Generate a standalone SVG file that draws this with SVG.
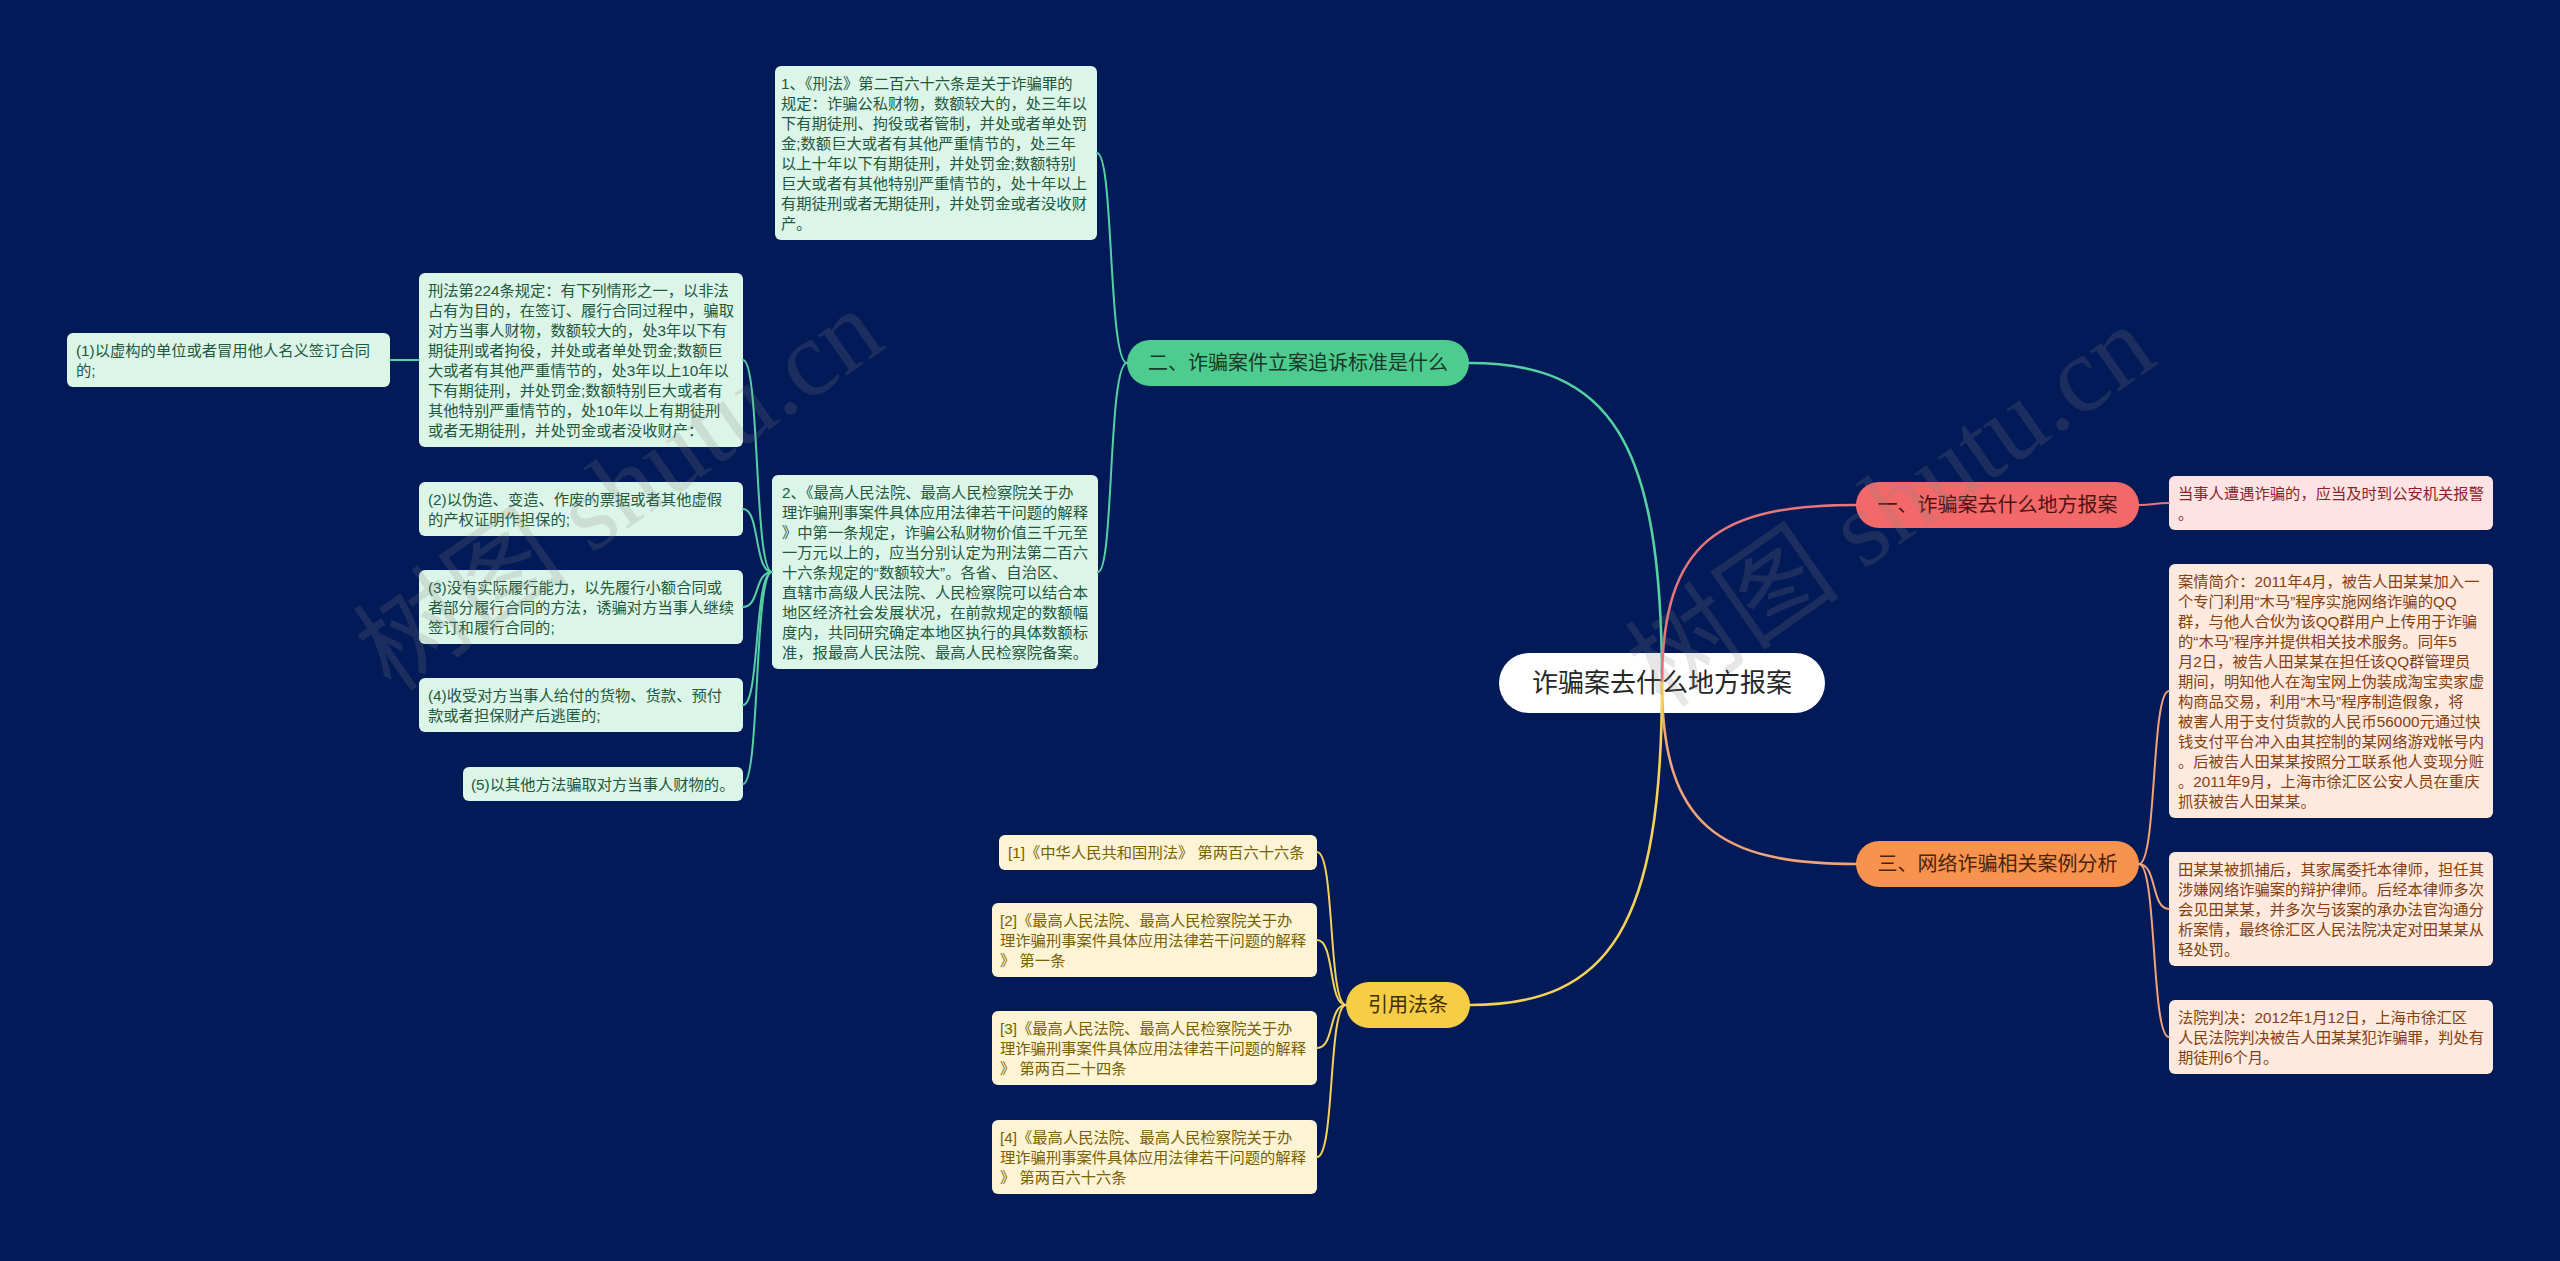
<svg xmlns="http://www.w3.org/2000/svg" width="2560" height="1261" viewBox="0 0 2560 1261">
<style>
text{font-family:"Liberation Sans","Noto Sans CJK SC",sans-serif;}
.lf{font-size:15.3px;}
.g rect{fill:#dcf5e9;}
.g text{fill:#22583c;}
.r rect{fill:#fde3e4;}
.r text{fill:#8e1f2d;}
.o rect{fill:#fde9de;}
.o text{fill:#86400f;}
.y rect{fill:#fdf4d5;}
.y text{fill:#786100;}
.br{font-size:20px;text-anchor:middle;}
.c{fill:none;stroke-linecap:round;}
.cg{stroke:#55d0a2;}
.cr{stroke:#e5777c;}
.co{stroke:#f1a47a;}
.cy{stroke:#f3d257;}
.main{stroke-width:2.6;}
.sub{stroke-width:2;}
.wm{font-family:"Liberation Serif","Noto Sans CJK SC",serif;font-size:108px;fill:#808080;fill-opacity:0.2;}
</style>
<rect x="0" y="0" width="2560" height="1261" fill="#021a57"/>

<g id="root">
<rect x="1499" y="653" width="326" height="60" rx="30" fill="#ffffff"/>
<text x="1662" y="692" font-size="26" text-anchor="middle" fill="#262626">诈骗案去什么地方报案</text>
</g>

<g id="branch-1">
<rect x="1856" y="482" width="283" height="46" rx="23" fill="#f3696a"/>
<text class="br" x="1997.5" y="512" fill="#4a1414">一、诈骗案去什么地方报案</text>
</g>
<g id="branch-2">
<rect x="1127" y="340" width="342" height="46" rx="23" fill="#4ecb8f"/>
<text class="br" x="1298" y="370" fill="#163a29">二、诈骗案件立案追诉标准是什么</text>
</g>
<g id="branch-3">
<rect x="1856" y="841" width="283" height="46" rx="23" fill="#f7934f"/>
<text class="br" x="1997.5" y="871" fill="#4a2308">三、网络诈骗相关案例分析</text>
</g>
<g id="branch-4">
<rect x="1346" y="982" width="124" height="46" rx="23" fill="#f7cd45"/>
<text class="br" x="1408" y="1012" fill="#3d3000">引用法条</text>
</g>

<g id="leaf-law266" class="g">
<rect x="775" y="66" width="322" height="174" rx="6"/>
<text class="lf" x="781" y="88.5"><tspan x="781">1、《刑法》第二百六十六条是关于诈骗罪的</tspan><tspan x="781" dy="20">规定：诈骗公私财物，数额较大的，处三年以</tspan><tspan x="781" dy="20">下有期徒刑、拘役或者管制，并处或者单处罚</tspan><tspan x="781" dy="20">金;数额巨大或者有其他严重情节的，处三年</tspan><tspan x="781" dy="20">以上十年以下有期徒刑，并处罚金;数额特别</tspan><tspan x="781" dy="20">巨大或者有其他特别严重情节的，处十年以上</tspan><tspan x="781" dy="20">有期徒刑或者无期徒刑，并处罚金或者没收财</tspan><tspan x="781" dy="20">产。</tspan></text>
</g>

<g id="leaf-interp" class="g">
<rect x="772" y="475" width="326" height="194" rx="6"/>
<text class="lf" x="782" y="497.5"><tspan x="782">2、《最高人民法院、最高人民检察院关于办</tspan><tspan x="782" dy="20">理诈骗刑事案件具体应用法律若干问题的解释</tspan><tspan x="782" dy="20">》中第一条规定，诈骗公私财物价值三千元至</tspan><tspan x="782" dy="20">一万元以上的，应当分别认定为刑法第二百六</tspan><tspan x="782" dy="20">十六条规定的“数额较大”。各省、自治区、</tspan><tspan x="782" dy="20">直辖市高级人民法院、人民检察院可以结合本</tspan><tspan x="782" dy="20">地区经济社会发展状况，在前款规定的数额幅</tspan><tspan x="782" dy="20">度内，共同研究确定本地区执行的具体数额标</tspan><tspan x="782" dy="20">准，报最高人民法院、最高人民检察院备案。</tspan></text>
</g>

<g id="leaf-law224" class="g">
<rect x="419" y="273" width="324" height="174" rx="6"/>
<text class="lf" x="428" y="295.5"><tspan x="428">刑法第224条规定：有下列情形之一，以非法</tspan><tspan x="428" dy="20">占有为目的，在签订、履行合同过程中，骗取</tspan><tspan x="428" dy="20">对方当事人财物，数额较大的，处3年以下有</tspan><tspan x="428" dy="20">期徒刑或者拘役，并处或者单处罚金;数额巨</tspan><tspan x="428" dy="20">大或者有其他严重情节的，处3年以上10年以</tspan><tspan x="428" dy="20">下有期徒刑，并处罚金;数额特别巨大或者有</tspan><tspan x="428" dy="20">其他特别严重情节的，处10年以上有期徒刑</tspan><tspan x="428" dy="20">或者无期徒刑，并处罚金或者没收财产：</tspan></text>
</g>

<g id="leaf-i1" class="g">
<rect x="67" y="333" width="323" height="54" rx="6"/>
<text class="lf" x="76" y="355.5"><tspan x="76">(1)以虚构的单位或者冒用他人名义签订合同</tspan><tspan x="76" dy="20">的;</tspan></text>
</g>
<g id="leaf-i2" class="g">
<rect x="419" y="482" width="324" height="54" rx="6"/>
<text class="lf" x="428" y="504.5"><tspan x="428">(2)以伪造、变造、作废的票据或者其他虚假</tspan><tspan x="428" dy="20">的产权证明作担保的;</tspan></text>
</g>
<g id="leaf-i3" class="g">
<rect x="419" y="570" width="324" height="74" rx="6"/>
<text class="lf" x="428" y="592.5"><tspan x="428">(3)没有实际履行能力，以先履行小额合同或</tspan><tspan x="428" dy="20">者部分履行合同的方法，诱骗对方当事人继续</tspan><tspan x="428" dy="20">签订和履行合同的;</tspan></text>
</g>
<g id="leaf-i4" class="g">
<rect x="419" y="678" width="324" height="54" rx="6"/>
<text class="lf" x="428" y="700.5"><tspan x="428">(4)收受对方当事人给付的货物、货款、预付</tspan><tspan x="428" dy="20">款或者担保财产后逃匿的;</tspan></text>
</g>
<g id="leaf-i5" class="g">
<rect x="463" y="767" width="280" height="34" rx="6"/>
<text class="lf" x="471" y="789.5">(5)以其他方法骗取对方当事人财物的。</text>
</g>

<g id="leaf-police" class="r">
<rect x="2169" y="476" width="324" height="54" rx="6"/>
<text class="lf" x="2178" y="498.5"><tspan x="2178">当事人遭遇诈骗的，应当及时到公安机关报警</tspan><tspan x="2178" dy="20">。</tspan></text>
</g>

<g id="leaf-case1" class="o">
<rect x="2169" y="564" width="324" height="254" rx="6"/>
<text class="lf" x="2178" y="586.5"><tspan x="2178">案情简介：2011年4月，被告人田某某加入一</tspan><tspan x="2178" dy="20">个专门利用“木马”程序实施网络诈骗的QQ</tspan><tspan x="2178" dy="20">群，与他人合伙为该QQ群用户上传用于诈骗</tspan><tspan x="2178" dy="20">的“木马”程序并提供相关技术服务。同年5</tspan><tspan x="2178" dy="20">月2日，被告人田某某在担任该QQ群管理员</tspan><tspan x="2178" dy="20">期间，明知他人在淘宝网上伪装成淘宝卖家虚</tspan><tspan x="2178" dy="20">构商品交易，利用“木马”程序制造假象，将</tspan><tspan x="2178" dy="20">被害人用于支付货款的人民币56000元通过快</tspan><tspan x="2178" dy="20">钱支付平台冲入由其控制的某网络游戏帐号内</tspan><tspan x="2178" dy="20">。后被告人田某某按照分工联系他人变现分赃</tspan><tspan x="2178" dy="20">。2011年9月，上海市徐汇区公安人员在重庆</tspan><tspan x="2178" dy="20">抓获被告人田某某。</tspan></text>
</g>
<g id="leaf-case2" class="o">
<rect x="2169" y="852" width="324" height="114" rx="6"/>
<text class="lf" x="2178" y="874.5"><tspan x="2178">田某某被抓捕后，其家属委托本律师，担任其</tspan><tspan x="2178" dy="20">涉嫌网络诈骗案的辩护律师。后经本律师多次</tspan><tspan x="2178" dy="20">会见田某某，并多次与该案的承办法官沟通分</tspan><tspan x="2178" dy="20">析案情，最终徐汇区人民法院决定对田某某从</tspan><tspan x="2178" dy="20">轻处罚。</tspan></text>
</g>
<g id="leaf-case3" class="o">
<rect x="2169" y="1000" width="324" height="74" rx="6"/>
<text class="lf" x="2178" y="1022.5"><tspan x="2178">法院判决：2012年1月12日，上海市徐汇区</tspan><tspan x="2178" dy="20">人民法院判决被告人田某某犯诈骗罪，判处有</tspan><tspan x="2178" dy="20">期徒刑6个月。</tspan></text>
</g>

<g id="ref-1" class="y">
<rect x="999" y="835" width="318" height="35" rx="6"/>
<text class="lf" x="1008" y="857.5">[1]《中华人民共和国刑法》 第两百六十六条</text>
</g>
<g id="ref-2" class="y">
<rect x="992" y="903" width="325" height="74" rx="6"/>
<text class="lf" x="1000" y="925.5"><tspan x="1000">[2]《最高人民法院、最高人民检察院关于办</tspan><tspan x="1000" dy="20">理诈骗刑事案件具体应用法律若干问题的解释</tspan><tspan x="1000" dy="20">》 第一条</tspan></text>
</g>
<g id="ref-3" class="y">
<rect x="992" y="1011" width="325" height="74" rx="6"/>
<text class="lf" x="1000" y="1033.5"><tspan x="1000">[3]《最高人民法院、最高人民检察院关于办</tspan><tspan x="1000" dy="20">理诈骗刑事案件具体应用法律若干问题的解释</tspan><tspan x="1000" dy="20">》 第两百二十四条</tspan></text>
</g>
<g id="ref-4" class="y">
<rect x="992" y="1120" width="325" height="74" rx="6"/>
<text class="lf" x="1000" y="1142.5"><tspan x="1000">[4]《最高人民法院、最高人民检察院关于办</tspan><tspan x="1000" dy="20">理诈骗刑事案件具体应用法律若干问题的解释</tspan><tspan x="1000" dy="20">》 第两百六十六条</tspan></text>
</g>

<g id="connectors">
<path class="c cg main" d="M1662,683 C1662,440 1610,363 1469,363"/>
<path class="c cr main" d="M1662,683 C1662,540 1720,505 1856,505"/>
<path class="c co main" d="M1662,683 C1662,826 1720,864 1856,864"/>
<path class="c cy main" d="M1662,683 C1662,926 1610,1005 1470,1005"/>

<path class="c cg sub" d="M1127,363 C1108,363 1114,153 1097,153"/>
<path class="c cg sub" d="M1127,363 C1108,363 1114,572 1098,572"/>

<path class="c cg sub" d="M772,572 C754,572 760,360 743,360"/>
<path class="c cg sub" d="M772,572 C754,572 760,509 743,509"/>
<path class="c cg sub" d="M772,572 C754,572 760,607 743,607"/>
<path class="c cg sub" d="M772,572 C754,572 760,705 743,705"/>
<path class="c cg sub" d="M772,572 C754,572 760,784 743,784"/>
<path class="c cg sub" d="M419,360 L390,360"/>

<path class="c cr sub" d="M2139,505 C2154,505 2154,503 2169,503"/>

<path class="c co sub" d="M2139,864 C2157,864 2151,691 2169,691"/>
<path class="c co sub" d="M2139,864 C2157,864 2151,909 2169,909"/>
<path class="c co sub" d="M2139,864 C2157,864 2151,1037 2169,1037"/>

<path class="c cy sub" d="M1346,1005 C1328,1005 1335,852 1317,852"/>
<path class="c cy sub" d="M1346,1005 C1328,1005 1335,940 1317,940"/>
<path class="c cy sub" d="M1346,1005 C1328,1005 1335,1048 1317,1048"/>
<path class="c cy sub" d="M1346,1005 C1328,1005 1335,1157 1317,1157"/>
</g>

<g id="watermark">
<text class="wm" text-anchor="middle" transform="translate(640,520) rotate(-35)">树图 shutu.cn</text>
<text class="wm" text-anchor="middle" transform="translate(1912,536) rotate(-35)">树图 shutu.cn</text>
</g>
</svg>
